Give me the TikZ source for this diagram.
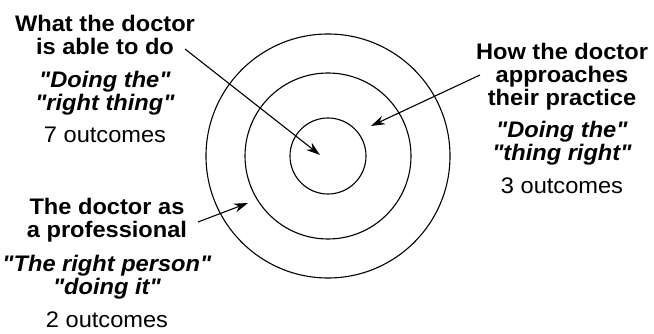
\documentclass[tikz,border=0pt]{standalone}
\usepackage{fontspec}
\newfontfamily\labelfont{Liberation Sans}[FakeStretch=1.05]
\usetikzlibrary{arrows.meta}
\tikzset{
  ring/.style={draw, circle, line width=1.1pt, inner sep=0pt},
  caption/.style={align=center, inner sep=0pt, anchor=north,
    font=\labelfont\fontsize{22.5}{23}\selectfont},
  pointer/.style={-{Stealth[length=14pt,width=9pt]}, line width=1.1pt}
}
\newcommand{\aim}[1]{\textbf{\textit{#1}}}

\begin{document}
\begin{tikzpicture}[x=1pt, y=-1pt]
\useasboundingbox (0,0) rectangle (654,334);
% target rings
\node[ring, minimum size=76pt] (inner) at (328,156) {};
\node[ring, minimum size=166pt] (middle) at (328,156) {};
\node[ring, minimum size=244pt] (outer) at (328,156) {};
% captions
\node[caption] (able) at (105,15)
  {\textbf{What the doctor}\\ \textbf{is able to do}\\[10pt]
   \aim{"Doing the"}\\ \aim{"right thing"}\\[9pt] 7 outcomes};
\node[caption] (approach) at (562,43)
  {\textbf{How the doctor}\\ \textbf{approaches}\\ \textbf{their practice}\\[9pt]
   \aim{"Doing the"}\\ \aim{"thing right"}\\[10pt] 3 outcomes};
\node[caption] (professional) at (107,198)
  {\textbf{The doctor as}\\ \textbf{a professional}\\[11pt]
   \aim{"The right person"}\\ \aim{"doing it"}\\[10pt] 2 outcomes};
% arrows
\coordinate (ableTail) at (185,49);
\coordinate (ableTip) at (320,155);
\coordinate (approachTail) at (480,75);
\coordinate (approachTip) at (371,126);
\coordinate (professionalTail) at (198,222);
\coordinate (professionalTip) at (248,203);
\draw[pointer] (ableTail) -- (ableTip);
\draw[pointer] (approachTail) -- (approachTip);
\draw[pointer] (professionalTail) -- (professionalTip);
\end{tikzpicture}
\end{document}
